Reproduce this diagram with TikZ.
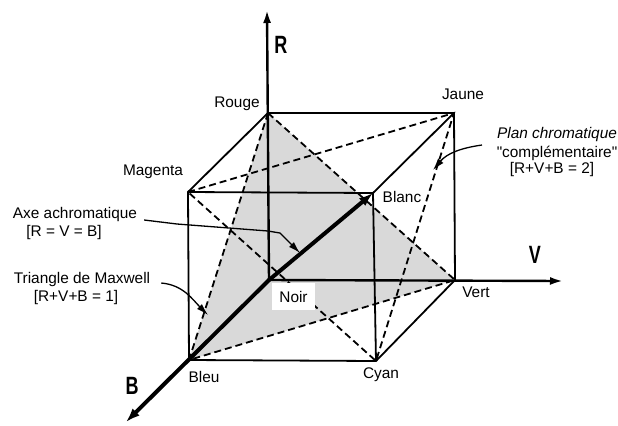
\documentclass[tikz,border=0pt]{standalone}
\usepackage{fontspec}
\setsansfont{Liberation Sans}
\newfontfamily\axisfont[FakeStretch=0.72]{Liberation Sans}
\usetikzlibrary{arrows.meta}

\begin{document}
\begin{tikzpicture}[x=0.5pt,y=-0.5pt,font=\sffamily\fontsize{7.7}{9}\selectfont,
  edge/.style={line width=0.9pt,line join=round},
  hid/.style={line width=0.9pt,dash pattern=on 3.5pt off 2pt},
  axis/.style={line width=1.2pt,-{Latex[length=6.5pt,width=4pt]}},
  heavy/.style={line width=2pt,line cap=round,-{Latex[length=7pt,width=5pt]}},
  pointer/.style={line width=0.65pt,-{Latex[length=6pt,width=3.5pt]}},
  axislabel/.style={font=\axisfont\bfseries\fontsize{12.5}{14}\selectfont}]
\useasboundingbox (0,0) rectangle (618,425);
% corners of the cube
\coordinate (noir) at (269,280);
\coordinate (rouge) at (268,113);
\coordinate (vert) at (455,280);
\coordinate (jaune) at (454,113);
\coordinate (bleu) at (189,360);
\coordinate (cyan) at (376,361);
\coordinate (magenta) at (188,192);
\coordinate (blanc) at (373,193);
% ends of the axes
\coordinate (rtip) at (267,10);
\coordinate (vtip) at (563,281);
\coordinate (btip) at (126,422);
% the two planes
\fill[black!15] (rouge) -- (vert) -- (bleu) -- cycle;
\draw[hid] (rouge) -- (vert) -- (bleu) -- cycle;
\draw[hid] (magenta) -- (jaune) -- (cyan) -- cycle;
% cube
\draw[edge] (magenta) -- (blanc) -- (cyan) -- (bleu) -- cycle;
\draw[edge] (magenta) -- (rouge) -- (jaune) -- (blanc);
\draw[edge] (jaune) -- (vert) -- (cyan);
% axes
\draw[axis] (noir) -- (rtip);
\draw[axis] (noir) -- (vtip);
\draw[heavy] (noir) -- (btip);
\draw[heavy] (noir) -- (blanc);
\node[axislabel] (rlab) at (281,45) {R};
\node[axislabel] (vlab) at (535,255) {V};
\node[axislabel] (blab) at (132,386) {B};
% corner names
\node (lrouge) at (237,104) {Rouge};
\node (ljaune) at (463,94) {Jaune};
\node (lmagenta) at (153,172) {Magenta};
\node (lblanc) at (402,197) {Blanc};
\node[fill=white,minimum width=21.5pt,minimum height=13.5pt] (lnoir) at (293.5,296.5) {Noir};
\node (lvert) at (476,292) {Vert};
\node (lcyan) at (381,375) {Cyan};
\node (lbleu) at (204,377) {Bleu};
% notes
\node (axe) at (75,215) {Axe achromatique};
\node (axeeq) at (64,233) {[R = V = B]};
\node (maxwell) at (82,280) {Triangle de Maxwell};
\node (maxwelleq) at (76,298) {[R+V+B = 1]};
\node (plan) at (557,135) {\itshape Plan chromatique};
\node (compl) at (557,153) {\textquotedbl compl\'ementaire\textquotedbl};
\node (planeq) at (552,170) {[R+V+B = 2]};
\coordinate (axetip) at (300,253);
\coordinate (maxtip) at (208,315);
\coordinate (plantip) at (433,170);
\draw[pointer] ([yshift=-2.5pt]axe.east) -- (177,224) -- (268,231) -- (280,233) -- (axetip);
\draw[pointer] ([xshift=2pt,yshift=-1.5pt]maxwell.east) to[out=-5,in=135] (maxtip);
\draw[pointer] ([shift={(-4pt,-5pt)}]plan.west) to[out=188,in=50] (plantip);
\end{tikzpicture}
\end{document}
